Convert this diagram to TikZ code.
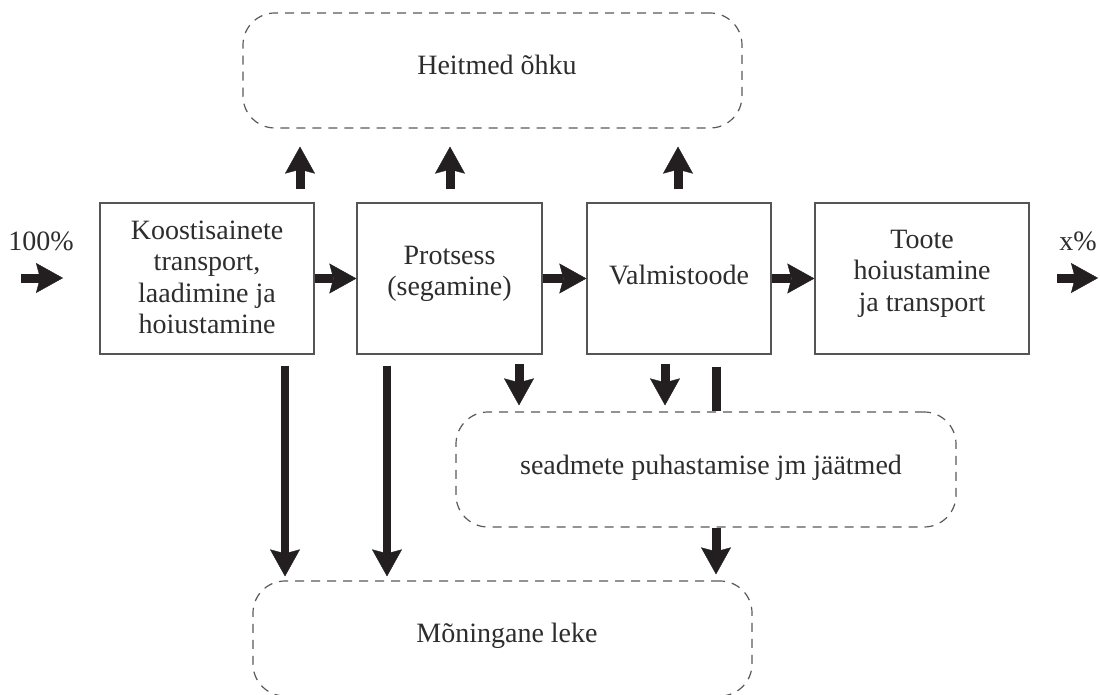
\documentclass[tikz,border=0pt]{standalone}
\usepackage{fontspec}
\setmainfont{Liberation Serif}
\usetikzlibrary{arrows.meta}
\definecolor{txt}{HTML}{2D2D2D}
\definecolor{boxc}{HTML}{555555}
\definecolor{dashc}{HTML}{5A5A5A}
\definecolor{arrc}{HTML}{231F20}
\begin{document}
\begin{tikzpicture}[x=1pt,y=-1pt,
  every node/.style={text=txt, font=\fontsize{28}{31.5}\selectfont},
  procbox/.style={draw=boxc, line width=1.3pt, inner sep=0pt, minimum height=151pt},
  cloudbox/.style={draw=dashc, dash pattern=on 9pt off 7pt, line width=1.2pt, rounded corners=32pt, inner sep=0pt, minimum width=499pt, minimum height=115pt},
  boxtext/.style={align=center, inner sep=0pt},
  fat/.style={draw=arrc, line width=9pt, -{Stealth[length=27pt,width=30pt,inset=4pt,line width=0.4pt]}},
  barline/.style={draw=arrc, line width=9pt},
]
\useasboundingbox (0,0) rectangle (1100,695);
\fill[white] (0,0) rectangle (1100,695);

% process boxes
\node[procbox, minimum width=214pt] (b1) at (207,278.5) {};
\node[procbox, minimum width=185pt] (b2) at (449.5,278.5) {};
\node[procbox, minimum width=184pt] (b3) at (679,278.5) {};
\node[procbox, minimum width=214pt] (b4) at (922,278.5) {};
\node[boxtext] (t1) at (207,277.5) {Koostisainete\\transport,\\laadimine ja\\hoiustamine};
\node[boxtext] (t2) at (449.5,274) {Protsess\\(segamine)};
\node[boxtext] (t3) at (679,275) {Valmistoode};
\node[boxtext] (t4) at (922,273.5) {Toote\\hoiustamine\\ja transport};

% dashed output boxes
\node[cloudbox] (air) at (492.5,70.5) {};
\node[cloudbox, minimum width=500pt] (mid) at (706,469.5) {};
\node[cloudbox] (leak) at (502.5,638.5) {};
\node[boxtext] (tair) at (497,65) {Heitmed õhku};
\node[boxtext] (tmid) at (711,468) {seadmete puhastamise jm jäätmed};
\node[boxtext] (tleak) at (507,636) {Mõningane leke};

% labels
\node (p100) at (41,241) {100\%};
\node (px) at (1078,241) {x\%};

% free-end coordinates
\coordinate (in1) at (21,278);
\coordinate (in2) at (63,278);
\coordinate (out1) at (1057,278);
\coordinate (out2) at (1098,278);
\coordinate (xu1) at (300,0);
\coordinate (xu2) at (450,0);
\coordinate (xu3) at (678,0);
\coordinate (xd1) at (519,0);
\coordinate (xd2) at (665,0);
\coordinate (xb) at (716,0);
\coordinate (xl1) at (285,0);
\coordinate (xl2) at (387,0);

% main flow
\draw[fat] (in1) -- (in2);
\draw[fat] (b1.east) -- (b2.west);
\draw[fat] (b2.east) -- (b3.west);
\draw[fat] (b3.east) -- (b4.west);
\draw[fat] (out1) -- (out2);

% emissions up
\draw[fat, shorten <=13pt, shorten >=18pt] (b1.north -| xu1) -- (air.south -| xu1);
\draw[fat, shorten <=13pt, shorten >=18pt] (b2.north -| xu2) -- (air.south -| xu2);
\draw[fat, shorten <=13pt, shorten >=18pt] (b3.north -| xu3) -- (air.south -| xu3);

% waste down
\draw[fat, shorten <=9pt, shorten >=6pt] (b2.south -| xd1) -- (mid.north -| xd1);
\draw[fat, shorten <=9pt, shorten >=6pt] (b3.south -| xd2) -- (mid.north -| xd2);
\draw[barline, shorten <=12pt] (b3.south -| xb) -- (mid.north -| xb);
\draw[fat, shorten >=6pt] (mid.south -| xb) -- (leak.north -| xb);

% leakage
\draw[fat, line width=8pt, shorten <=11pt, shorten >=4pt] (b1.south -| xl1) -- (leak.north -| xl1);
\draw[fat, line width=8pt, shorten <=11pt, shorten >=4pt] (b2.south -| xl2) -- (leak.north -| xl2);
\end{tikzpicture}
\end{document}
